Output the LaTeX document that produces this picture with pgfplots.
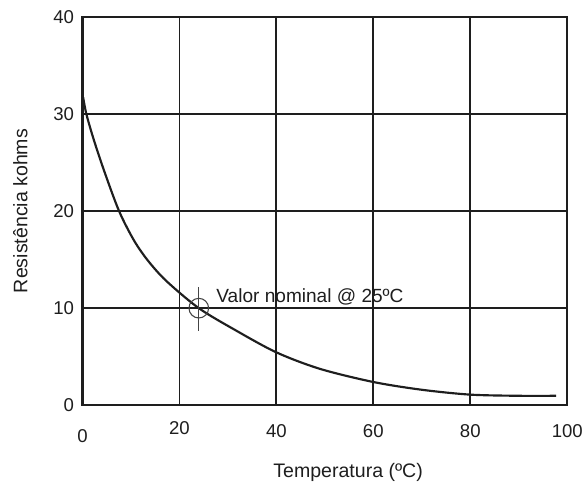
\documentclass[border=0pt]{standalone}
\usepackage{fontspec}
\setmainfont{Liberation Sans}
\usepackage{pgfplots}
\pgfplotsset{compat=1.18}
\definecolor{ink}{HTML}{1E1E1E}
\definecolor{marker}{HTML}{444444}

\begin{document}
\begin{tikzpicture}
\begin{axis}[
    scale only axis,
    width=494bp, height=396bp,
    xmin=0, xmax=100,
    ymin=0, ymax=40,
    xtick={0,20,40,60,80,100},
    xticklabels={\raisebox{-5bp}{0},\raisebox{3bp}{20},40,60,80,100},
    ytick={0,10,20,30,40},
    /pgf/number format/assume math mode=true,
    major tick length=0pt,
    grid=major,
    grid style={ink, line width=1.8pt},
    axis line style={ink, line width=2.2pt},
    tick label style={font=\fontsize{19}{21}\selectfont, text=ink},
    yticklabel style={xshift=-5bp},
    xticklabel style={yshift=-15bp, text height=14bp, text depth=0pt},
    xlabel={Temperatura (ºC)},
    ylabel={Resistência kohms},
    label style={font=\fontsize{20}{23}\selectfont, text=ink},
    xlabel style={at={(axis description cs:0.548,-0.14)}, anchor=north},
    ylabel style={at={(axis description cs:-0.128,0.5)}, anchor=center},
]
% curva da resistencia
\addplot[ink, line width=2.2pt, smooth] coordinates {
    (0.15,31.7) (0.8,30.0) (2.3,27.4) (4.5,24.1) (7.55,20.0)
    (10.6,17.0) (13.5,14.9) (17.3,12.8) (24,10.0) (31.5,7.75)
    (40,5.45) (49,3.75) (60,2.4) (70,1.6) (80,1.1) (90,0.98) (97.7,0.98)
};
% valor nominal
\addplot[marker, line width=1.1pt, mark=o, mark size=10bp, only marks] coordinates {(24,10)};
\addplot[marker, line width=1.3pt] coordinates {(24,7.7) (24,12.2)};
\node[anchor=west, font=\fontsize{19.5}{22}\selectfont, text=ink, inner sep=0pt]
    at (axis cs:27.6,11.2) {Valor nominal @ 25ºC};
\end{axis}
\path (current axis.south west) ++(-84bp,-70bp) coordinate (bbA);
\path (current axis.north east) ++(8bp,17bp) coordinate (bbB);
\path (bbA) rectangle (bbB);
\end{tikzpicture}
\end{document}
